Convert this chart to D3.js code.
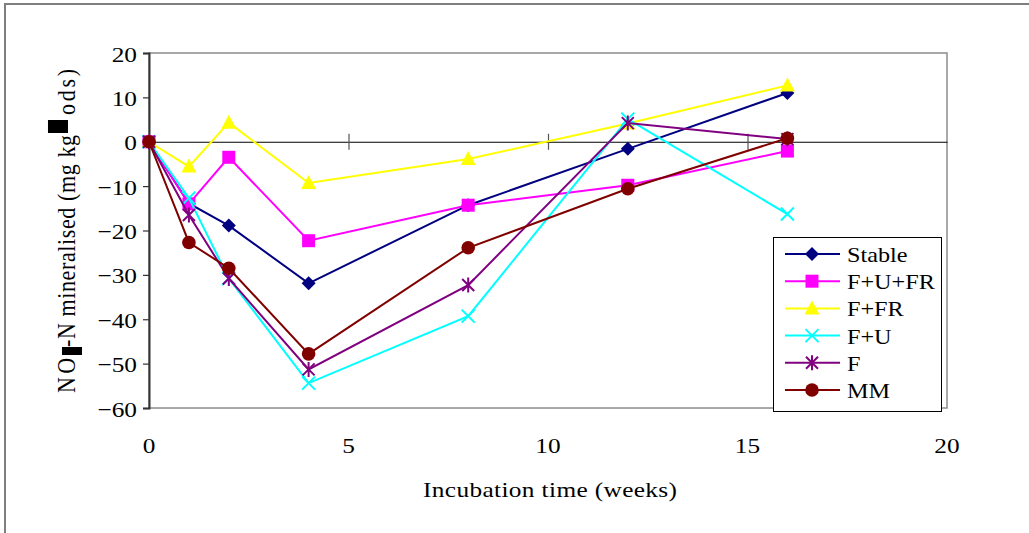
<!DOCTYPE html>
<html>
<head>
<meta charset="utf-8">
<script src="https://cdn.jsdelivr.net/npm/d3@7"></script>
<style>
  html, body { margin: 0; padding: 0; background: #fff; }
  svg { display: block; }
</style>
</head>
<body>
<svg id="chart" width="1029" height="533"></svg>
<script>
// Incubation weeks at which samples were taken
const weeks = [0, 1, 2, 4, 8, 12, 16];

// NO3-N mineralised (mg kg-1 ods) for each treatment
const seriesNames = ["Stable", "F+U+FR", "F+FR", "F+U", "F", "MM"];
const stable = [0, -13.9, -18.9, -31.9, -14.3, -1.6, 11.0];
const fufr   = [0, -14.0, -3.5, -22.3, -14.3, -9.8, -2.1];
const ffr    = [0, -5.6, 4.3, -9.3, -3.9, 4.1, 12.7];
const fu     = [0, -12.7, -30.8, -54.4, -39.3, 5.1, -16.3];
const f      = [0, -16.5, -30.8, -51.3, -32.3, 4.2, 0.6];
const mm     = [0, -22.7, -28.5, -47.8, -23.9, -10.6, 0.8];

// Axis ticks
const xTicks = [0, 5, 10, 15, 20];
const yTicks = [20, 10, 0, -10, -20, -30, -40, -50, -60];

const seriesValues = [stable, fufr, ffr, fu, f, mm];
const colors = ["#000080", "#FF00FF", "#FFFF00", "#00FFFF", "#800080", "#800000"];
const markers = ["diamond", "square", "triangle", "cross", "star", "circle"];

const FONT = '"Liberation Serif"';
const FS = 22;      // text size
const SX = 1.15;    // horizontal glyph stretch of the printed text

const svg = d3.select("#chart");

// Put a stretched text at (px, py)
function setText(sel, px, py, sx = SX) {
  sel.attr("x", 0).attr("y", 0)
    .attr("transform", `translate(${px},${py}) scale(${sx},1)`)
    .style("font-family", FONT).style("font-size", FS + "px").attr("fill", "#000");
  return sel;
}

// Outer chart frame
svg.append("path")
  .attr("d", "M5,540 L5,4 L1040,4")
  .attr("fill", "none").attr("stroke", "#7f7f7f").attr("stroke-width", 2);

const x = d3.scaleLinear().domain([0, 20]).range([149, 947]);
const y = d3.scaleLinear().domain([-60, 20]).range([408, 53]);

// Plot area border
svg.append("rect")
  .attr("x", x(0)).attr("y", y(20))
  .attr("width", x(20) - x(0)).attr("height", y(-60) - y(20))
  .attr("fill", "none").attr("stroke", "#8c8c8c").attr("stroke-width", 1.5);

// Y axis
const yAxis = svg.append("g")
  .attr("transform", `translate(${x(0)},0)`)
  .call(d3.axisLeft(y).tickValues(yTicks).tickSize(6).tickFormat(d3.format("d")));
yAxis.select(".domain").attr("stroke", "#333").attr("stroke-width", 2);
yAxis.selectAll(".tick line").attr("stroke", "#333").attr("stroke-width", 1.2);
yAxis.selectAll(".tick text").each(function () {
  setText(d3.select(this), -12, 8).attr("dy", null);
});

// X axis drawn along zero
const xAxis = svg.append("g")
  .attr("transform", `translate(0,${y(0)})`)
  .call(d3.axisBottom(x).tickValues(xTicks).tickSize(0).tickFormat(""));
xAxis.select(".domain").attr("stroke", "#000").attr("stroke-width", 1.2);
xAxis.selectAll(".tick line")
  .attr("y1", -8).attr("y2", 8)
  .attr("stroke", "#555").attr("stroke-width", 1.2);
xAxis.selectAll(".tick").filter(d => d === 0 || d === 20).select("line").remove();

// X tick labels below plot
svg.append("g").selectAll("text")
  .data(xTicks).join("text")
  .attr("text-anchor", "middle")
  .text(d => d)
  .each(function (d) { setText(d3.select(this), x(d), 453); });

// X axis title
setText(svg.append("text"), 550, 497)
  .attr("text-anchor", "middle")
  .attr("textLength", 254 / SX).attr("lengthAdjust", "spacing")
  .text("Incubation time (weeks)");

// Y axis title, laid out in pieces; the subscript "3" and superscript "-1"
// print as solid blocks. In this frame text x runs up the page (x = -pageY).
const yTitle = svg.append("g")
  .attr("transform", `translate(75,0) scale(${SX},1) rotate(-90)`)
  .style("font-family", FONT);
const titleParts = [
  { t: "NO", from: 393, len: 35, size: FS },
  { t: "3", from: 355, len: 8, size: 9, block: [-11.3, 17.4] },
  { t: "-N mineralised (mg kg", from: 347, len: 212, size: FS },
  { t: "-1", from: 133, len: 13, size: 9, block: [-23.5, 17.4] },
  { t: "ods)", from: 115, len: 46, size: FS }
];
titleParts.forEach(p => {
  yTitle.append("text")
    .attr("x", -p.from).attr("y", p.block ? p.block[0] + 12 : 0)
    .attr("textLength", p.len).attr("lengthAdjust", "spacing")
    .style("font-size", p.size + "px")
    .text(p.t);
  if (p.block) {
    yTitle.append("rect")
      .attr("x", -p.from).attr("y", p.block[0])
      .attr("width", p.len).attr("height", p.block[1])
      .attr("fill", "#000");
  }
});

// Marker shapes
function drawMarker(g, type, color) {
  const s = 7;
  if (type === "diamond") {
    g.append("path").attr("d", `M0,${-s} L${s},0 L0,${s} L${-s},0 Z`).attr("fill", color);
  } else if (type === "square") {
    g.append("rect").attr("x", -6.5).attr("y", -6.5).attr("width", 13).attr("height", 13).attr("fill", color);
  } else if (type === "triangle") {
    g.append("path").attr("d", `M0,-8 L7.5,6 L-7.5,6 Z`).attr("fill", color);
  } else if (type === "cross") {
    g.append("path").attr("d", `M-6.5,-6.5 L6.5,6.5 M-6.5,6.5 L6.5,-6.5`)
      .attr("stroke", color).attr("stroke-width", 2).attr("fill", "none");
  } else if (type === "star") {
    g.append("path").attr("d", `M-6,-6 L6,6 M-6,6 L6,-6 M0,-7.5 L0,7.5`)
      .attr("stroke", color).attr("stroke-width", 2).attr("fill", "none");
  } else if (type === "circle") {
    g.append("circle").attr("r", 6.8).attr("fill", color);
  }
}

const line = d3.line().x(d => x(d[0])).y(d => y(d[1]));

seriesValues.forEach((vals, i) => {
  const pts = weeks.map((w, j) => [w, vals[j]]);
  const g = svg.append("g");
  g.append("path").datum(pts)
    .attr("d", line)
    .attr("fill", "none").attr("stroke", colors[i]).attr("stroke-width", 2);
  pts.forEach(p => {
    const m = g.append("g").attr("transform", `translate(${x(p[0])},${y(p[1])})`);
    drawMarker(m, markers[i], colors[i]);
  });
});

// Legend
const legend = svg.append("g");
legend.append("rect")
  .attr("x", 773.5).attr("y", 237.5).attr("width", 168).attr("height", 174)
  .attr("fill", "#fff").attr("stroke", "#000").attr("stroke-width", 1);
const legendY = d3.scalePoint().domain(seriesNames).range([254, 390]);
seriesNames.forEach((name, i) => {
  const ly = legendY(name);
  legend.append("line")
    .attr("x1", 785).attr("x2", 840).attr("y1", ly).attr("y2", ly)
    .attr("stroke", colors[i]).attr("stroke-width", 2);
  const m = legend.append("g").attr("transform", `translate(812,${ly})`);
  drawMarker(m, markers[i], colors[i]);
  setText(legend.append("text"), 847, ly + 8, 1.1).text(name);
});
</script>
</body>
</html>
